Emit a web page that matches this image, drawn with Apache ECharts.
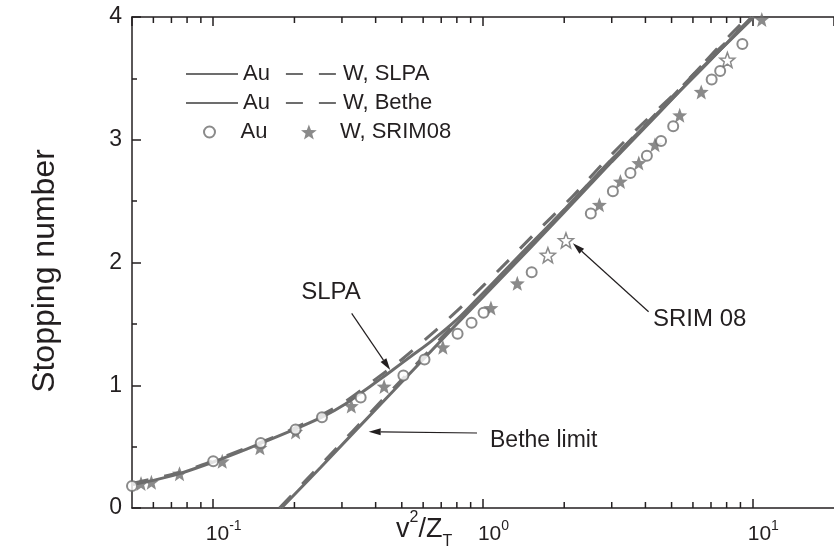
<!DOCTYPE html>
<html>
<head>
<meta charset="utf-8">
<script src="https://cdn.jsdelivr.net/npm/echarts@6/dist/echarts.min.js"></script>
<style>
  html, body { margin: 0; padding: 0; background: #ffffff; }
  #chart { width: 834px; height: 553px; }
</style>
</head>
<body>
<div id="chart"></div>
<script>
// Stopping number of Au and W targets versus reduced energy v^2/Z_T

// Au, SLPA model (solid)
const auSlpaX = [0.05, 0.06, 0.075, 0.1, 0.133, 0.2, 0.255, 0.31, 0.357, 0.41, 0.46, 0.544, 0.644, 0.805, 0.95, 1.2, 1.5, 2.0, 3.0, 4.5, 6.5, 9.9];
const auSlpaY = [0.19, 0.225, 0.28, 0.375, 0.48, 0.64, 0.744, 0.85, 0.945, 1.04, 1.12, 1.24, 1.36, 1.54, 1.70, 1.93, 2.15, 2.43, 2.84, 3.23, 3.58, 4.0];

// W, SLPA model (dashed)
const wSlpaX = [0.05, 0.075, 0.1, 0.15, 0.2, 0.3, 0.4, 0.5, 0.67, 0.88, 1.16, 1.58, 2.15, 2.85, 3.9, 5.5, 7.5, 9.6];
const wSlpaY = [0.20, 0.29, 0.385, 0.535, 0.65, 0.85, 1.05, 1.21, 1.45, 1.69, 1.95, 2.25, 2.54, 2.83, 3.13, 3.44, 3.76, 4.0];

// Au, Bethe limit (solid)
const auBetheX = [0.179, 0.25, 0.33, 0.45, 0.6, 0.8, 1.0, 1.5, 2.0, 3.0, 4.5, 6.5, 10.1];
const auBetheY = [0, 0.33, 0.61, 0.92, 1.21, 1.50, 1.72, 2.12, 2.41, 2.82, 3.22, 3.59, 4.0];

// W, Bethe limit (dashed)
const wBetheX = [0.176, 0.25, 0.33, 0.45, 0.6, 0.8, 1.0, 1.5, 2.0, 3.0, 4.5, 6.5, 10.0];
const wBetheY = [0, 0.35, 0.63, 0.94, 1.23, 1.52, 1.74, 2.14, 2.43, 2.84, 3.24, 3.61, 4.0];

// Au, SRIM08 (open circles)
const auSrimX = [0.05, 0.1, 0.15, 0.202, 0.253, 0.352, 0.507, 0.607, 0.805, 0.907, 1.005, 1.515, 2.51, 3.03, 3.52, 4.05, 4.57, 5.07, 7.04, 7.57, 9.15];
const auSrimY = [0.18, 0.38, 0.53, 0.64, 0.74, 0.90, 1.08, 1.21, 1.42, 1.51, 1.59, 1.92, 2.40, 2.58, 2.73, 2.87, 2.99, 3.11, 3.49, 3.56, 3.78];

// W, SRIM08 (filled stars)
const wSrimX = [0.054, 0.059, 0.075, 0.108, 0.149, 0.202, 0.325, 0.43, 0.71, 1.07, 1.34, 2.70, 3.23, 3.78, 4.34, 5.36, 6.44, 10.8];
const wSrimY = [0.20, 0.21, 0.28, 0.38, 0.49, 0.62, 0.83, 0.99, 1.31, 1.63, 1.83, 2.47, 2.66, 2.81, 2.96, 3.20, 3.39, 3.98];

// W, SRIM08 points drawn as hollow stars
const wSrimOpenX = [1.74, 2.03, 8.05];
const wSrimOpenY = [2.06, 2.18, 3.65];

// Minor ticks of the logarithmic axis
const minorTicks = [0.06, 0.07, 0.08, 0.09, 0.2, 0.3, 0.4, 0.5, 0.6, 0.7, 0.8, 0.9, 2, 3, 4, 5, 6, 7, 8, 9];

// Annotation arrows: tail (x, y) -> head (x, y)
const arrowTailX = [0.326, 0.95, 4.11];
const arrowTailY = [1.586, 0.611, 1.599];
const arrowHeadX = [0.453, 0.377, 2.153];
const arrowHeadY = [1.124, 0.622, 2.157];

// Axis ranges
const xMin = 0.05, xMax = 20;
const yMin = 0, yMax = 4;

const legendText = {
  'Au SLPA': 'Au', 'W SLPA': 'W, SLPA',
  'Au Bethe': 'Au', 'W Bethe': 'W, Bethe',
  'Au SRIM08': 'Au', 'W SRIM08': 'W, SRIM08'
};

const GRAY = '#6d6d6d';
const INK = '#231f20';
const FONT = '"Liberation Sans", Arial, Helvetica, sans-serif';
const STAR = 'path://M50,0 L62.34,33.01 L97.55,34.55 L69.97,56.49 L79.39,90.45 L50,71 L20.61,90.45 L30.03,56.49 L2.45,34.55 L37.66,33.01 Z';

const zip = (xs, ys) => xs.map((x, i) => [x, ys[i]]);

function lineSeries(name, xs, ys, dashed, smooth) {
  return {
    name: name,
    type: 'line',
    data: zip(xs, ys),
    symbol: 'none',
    smooth: smooth ? 0.3 : false,
    lineStyle: { color: GRAY, width: 3, type: dashed ? [17, 16] : 'solid' },
    itemStyle: { color: GRAY },
    z: 3
  };
}

function powerLabel(v) {
  const e = Math.round(Math.log10(v));
  if (Math.abs(v / Math.pow(10, e) - 1) > 1e-6) return '';
  return '{b|10}{s|' + e + '}';
}

const xAxisBase = {
  type: 'log',
  logBase: 10,
  min: xMin,
  max: xMax,
  axisLine: { show: true, onZero: false, lineStyle: { color: INK, width: 1.5 } },
  axisTick: { show: true, inside: true, length: 9, lineStyle: { color: INK, width: 1.5 } },
  splitLine: { show: false },
  minorTick: { show: false }
};

// line entries in the legend show only their stroke
const hideDot = { opacity: 0 };

function legendBox(left, top, names, itemHeight) {
  return {
    left: left,
    top: top,
    itemWidth: 52,
    itemHeight: itemHeight,
    itemGap: 15,
    selectedMode: false,
    data: names.map(n => (n.indexOf('SRIM') >= 0 ? { name: n } : { name: n, itemStyle: hideDot })),
    formatter: n => legendText[n],
    textStyle: { fontSize: 22, fontFamily: FONT, color: INK }
  };
}

const chart = echarts.init(document.getElementById('chart'), null, { renderer: 'canvas' });

chart.setOption({
  animation: false,
  backgroundColor: '#ffffff',
  grid: { left: 132, top: 17, width: 713, height: 491, containLabel: false },
  xAxis: [
    Object.assign({}, xAxisBase, {
      position: 'bottom',
      axisLabel: {
        show: true,
        margin: 11,
        showMinLabel: false,
        showMaxLabel: false,
        formatter: powerLabel,
        rich: {
          b: { fontSize: 21, fontFamily: FONT, color: INK, lineHeight: 30, verticalAlign: 'middle', padding: [0, 0, 0, 21] },
          s: { fontSize: 14, fontFamily: FONT, color: INK, lineHeight: 14, verticalAlign: 'top' }
        }
      }
    }),
    Object.assign({}, xAxisBase, {
      position: 'top',
      axisLabel: { show: false }
    })
  ],
  yAxis: {
    type: 'value',
    min: yMin,
    max: yMax,
    interval: 1,
    axisLine: { show: true, lineStyle: { color: INK, width: 1.5 } },
    axisTick: { show: true, inside: true, length: 9, lineStyle: { color: INK, width: 1.5 } },
    minorTick: { show: true, splitNumber: 2, length: 5, lineStyle: { color: INK, width: 1.5 } },
    splitLine: { show: false },
    axisLabel: { fontSize: 23, fontFamily: FONT, color: INK, margin: 10 }
  },
  legend: [
    legendBox(180, 58, ['Au SLPA', 'W SLPA'], 12),
    legendBox(180, 87, ['Au Bethe', 'W Bethe'], 12),
    legendBox(198, 116, ['Au SRIM08'], 11),
    legendBox(296, 116, ['W SRIM08'], 15)
  ],
  graphic: [
    {
      type: 'text', x: 45, y: 271, rotation: Math.PI / 2, silent: true,
      style: { text: 'Stopping number', fontSize: 32, fontFamily: FONT, fill: INK, align: 'center', verticalAlign: 'middle' }
    },
    {
      type: 'text', x: 396, y: 530, silent: true,
      style: {
        text: '{b|v}{sup|2}{b|/Z}{sub|T}',
        align: 'left', verticalAlign: 'middle',
        rich: {
          b: { fontSize: 27, fontFamily: FONT, fill: INK, lineHeight: 40, verticalAlign: 'middle' },
          sup: { fontSize: 16, fontFamily: FONT, fill: INK, lineHeight: 16, verticalAlign: 'top' },
          sub: { fontSize: 16, fontFamily: FONT, fill: INK, lineHeight: 8, verticalAlign: 'bottom' }
        }
      }
    },
    {
      type: 'text', x: 331, y: 292, silent: true,
      style: { text: 'SLPA', fontSize: 24, fontFamily: FONT, fill: INK, align: 'center', verticalAlign: 'middle' }
    },
    {
      type: 'text', x: 490, y: 441, silent: true,
      style: { text: 'Bethe limit', fontSize: 23, fontFamily: FONT, fill: INK, align: 'left', verticalAlign: 'middle' }
    },
    {
      type: 'text', x: 653, y: 319, silent: true,
      style: { text: 'SRIM 08', fontSize: 24, fontFamily: FONT, fill: INK, align: 'left', verticalAlign: 'middle' }
    }
  ],
  series: [
    lineSeries('Au Bethe', auBetheX, auBetheY, false, false),
    lineSeries('W Bethe', wBetheX, wBetheY, true, false),
    lineSeries('Au SLPA', auSlpaX, auSlpaY, false, true),
    lineSeries('W SLPA', wSlpaX, wSlpaY, true, true),
    {
      name: 'W SRIM08',
      type: 'scatter',
      data: zip(wSrimX, wSrimY),
      symbol: STAR,
      symbolSize: 15,
      itemStyle: { color: GRAY },
      z: 4
    },
    {
      name: 'W SRIM08 open',
      type: 'scatter',
      data: zip(wSrimOpenX, wSrimOpenY),
      symbol: STAR,
      symbolSize: 15,
      itemStyle: { color: '#ffffff', borderColor: GRAY, borderWidth: 1.5 },
      z: 4
    },
    {
      name: 'Au SRIM08',
      type: 'scatter',
      data: zip(auSrimX, auSrimY),
      symbol: 'emptyCircle',
      symbolSize: 10,
      itemStyle: { color: GRAY, borderColor: GRAY, borderWidth: 1.3 },
      z: 5
    },
    {
      // annotation arrows pointing at the curves
      name: 'arrows',
      type: 'custom',
      silent: true,
      clip: false,
      z: 7,
      encode: { x: [0, 2], y: [1, 3] },
      data: arrowTailX.map((x, i) => [x, arrowTailY[i], arrowHeadX[i], arrowHeadY[i]]),
      renderItem: function (params, api) {
        const p1 = api.coord([api.value(0), api.value(1)]);
        const p2 = api.coord([api.value(2), api.value(3)]);
        const dx = p2[0] - p1[0], dy = p2[1] - p1[1];
        const len = Math.sqrt(dx * dx + dy * dy);
        const ux = dx / len, uy = dy / len;
        const headLen = 12, halfW = 3.5;
        const bx = p2[0] - ux * headLen, by = p2[1] - uy * headLen;
        return {
          type: 'group',
          children: [
            { type: 'line', shape: { x1: p1[0], y1: p1[1], x2: bx, y2: by }, style: { stroke: INK, lineWidth: 1.2 } },
            {
              type: 'polygon',
              shape: { points: [[p2[0], p2[1]], [bx - uy * halfW, by + ux * halfW], [bx + uy * halfW, by - ux * halfW]] },
              style: { fill: INK }
            }
          ]
        };
      }
    },
    {
      // minor ticks on the bottom and top log axes
      name: 'minor ticks',
      type: 'custom',
      silent: true,
      clip: false,
      z: 6,
      data: minorTicks.map(v => [v, yMin]),
      renderItem: function (params, api) {
        const x = api.value(0);
        const b = api.coord([x, yMin]);
        const t = api.coord([x, yMax]);
        const st = { stroke: INK, lineWidth: 1.5 };
        return {
          type: 'group',
          children: [
            { type: 'line', shape: { x1: b[0], y1: b[1], x2: b[0], y2: b[1] - 6 }, style: st },
            { type: 'line', shape: { x1: t[0], y1: t[1], x2: t[0], y2: t[1] + 6 }, style: st }
          ]
        };
      }
    }
  ]
});
</script>
</body>
</html>
